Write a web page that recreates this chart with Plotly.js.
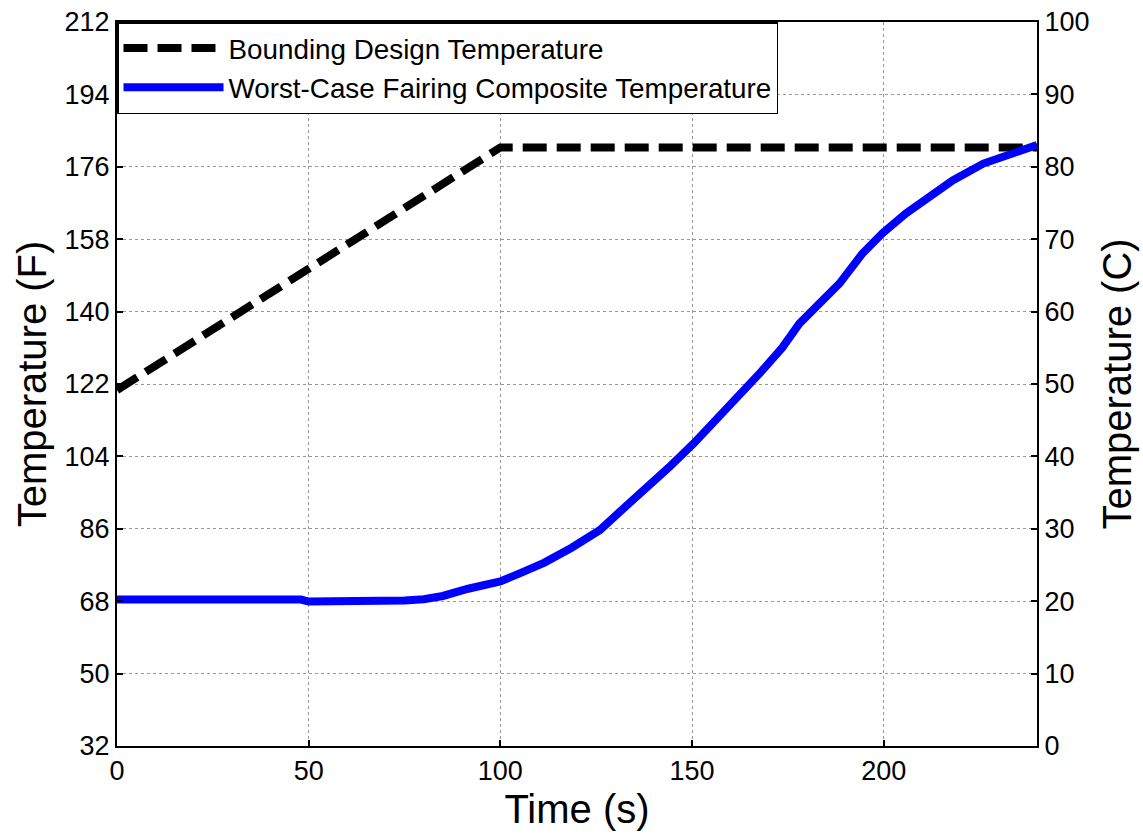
<!DOCTYPE html>
<html>
<head>
<meta charset="utf-8">
<script src="https://cdn.plot.ly/plotly-3.0.1.min.js"></script>
<style>html,body{margin:0;padding:0;background:#fff;}#chart{width:1143px;height:835px;}</style>
</head>
<body>
<div id="chart"></div>
<script>
// Bounding design temperature (F)
const timeBound = [0, 100, 240];
const tempBound = [120.5, 180.8, 180.8];

// Worst-case fairing composite temperature (F)
const timeComp = [0, 48, 50, 73, 75, 80, 85, 91.6, 95, 100, 105.5, 111.5, 118.6, 122, 126, 130.9, 137.7, 144, 150.5, 157.9, 164.9, 168, 173.6, 178, 183.2, 188.5, 194.5, 199.7, 205.8, 212, 218, 226, 233, 240];
const tempComp = [68.4, 68.4, 67.9, 67.9, 68.2, 68.5, 69.3, 71.1, 71.9, 72.9, 75.1, 77.6, 81.3, 83.4, 85.7, 90.0, 95.7, 101.3, 107.3, 114.7, 121.2, 125.0, 131.1, 137.0, 142.0, 147.0, 154.5, 159.5, 164.4, 168.4, 172.6, 176.8, 179.3, 181.4];

const xTicks = [0, 50, 100, 150, 200];
const fTicks = [32, 50, 68, 86, 104, 122, 140, 158, 176, 194, 212];
const cTicks = [0, 10, 20, 30, 40, 50, 60, 70, 80, 90, 100];

const FONT = 'Liberation Sans, Arial, sans-serif';

const traces = [
  {x: timeBound, y: tempBound, type: 'scatter', mode: 'lines', name: 'Bounding Design Temperature',
   line: {color: '#000000', width: 8, dash: '24px,10px'}},
  {x: timeComp, y: tempComp, type: 'scatter', mode: 'lines', name: 'Worst-Case Fairing Composite Temperature',
   line: {color: '#0000ff', width: 8}},
  {x: [0], y: [0], yaxis: 'y2', type: 'scatter', mode: 'lines', showlegend: false, hoverinfo: 'skip',
   line: {color: 'rgba(0,0,0,0)', width: 0}}
];

const layout = {
  width: 1143, height: 835,
  margin: {l: 117, r: 106, t: 22, b: 89},
  paper_bgcolor: '#fff', plot_bgcolor: '#fff',
  font: {family: FONT, size: 27, color: '#000'},
  showlegend: true,
  legend: {x: 0, y: 1, xanchor: 'left', yanchor: 'top', bgcolor: '#fff', itemwidth: 100,
           bordercolor: '#000', borderwidth: 1.5, font: {family: FONT, size: 27.8, color: '#000'}},
  xaxis: {
    range: [0, 240], tickvals: xTicks, ticktext: xTicks.map(String),
    showgrid: true, gridcolor: '#999', griddash: 'dot', gridwidth: 1,
    showline: true, linecolor: '#000', linewidth: 2, mirror: true,
    ticks: 'inside', ticklen: 6, tickwidth: 2, tickcolor: '#000',
    zeroline: false, tickfont: {size: 27},
    title: {text: 'Time (s)', font: {size: 40}, standoff: 10}
  },
  yaxis: {
    range: [32, 212], tickvals: fTicks, ticktext: fTicks.map(String),
    showgrid: true, gridcolor: '#999', griddash: 'dot', gridwidth: 1,
    showline: true, linecolor: '#000', linewidth: 2,
    ticks: 'inside', ticklen: 6, tickwidth: 2, tickcolor: '#000',
    zeroline: false, tickfont: {size: 27},
    title: {text: 'Temperature (F)', font: {size: 40}, standoff: 6}
  },
  yaxis2: {
    overlaying: 'y', side: 'right', range: [0, 100], tickvals: cTicks, ticktext: cTicks.map(String),
    showgrid: false, showline: true, linecolor: '#000', linewidth: 2,
    ticks: 'inside', ticklen: 6, tickwidth: 2, tickcolor: '#000',
    zeroline: false, tickfont: {size: 27},
    title: {text: 'Temperature (C)', font: {size: 40}, standoff: 15}
  }
};

Plotly.newPlot('chart', traces, layout, {displayModeBar: false, staticPlot: true});
</script>
</body>
</html>
